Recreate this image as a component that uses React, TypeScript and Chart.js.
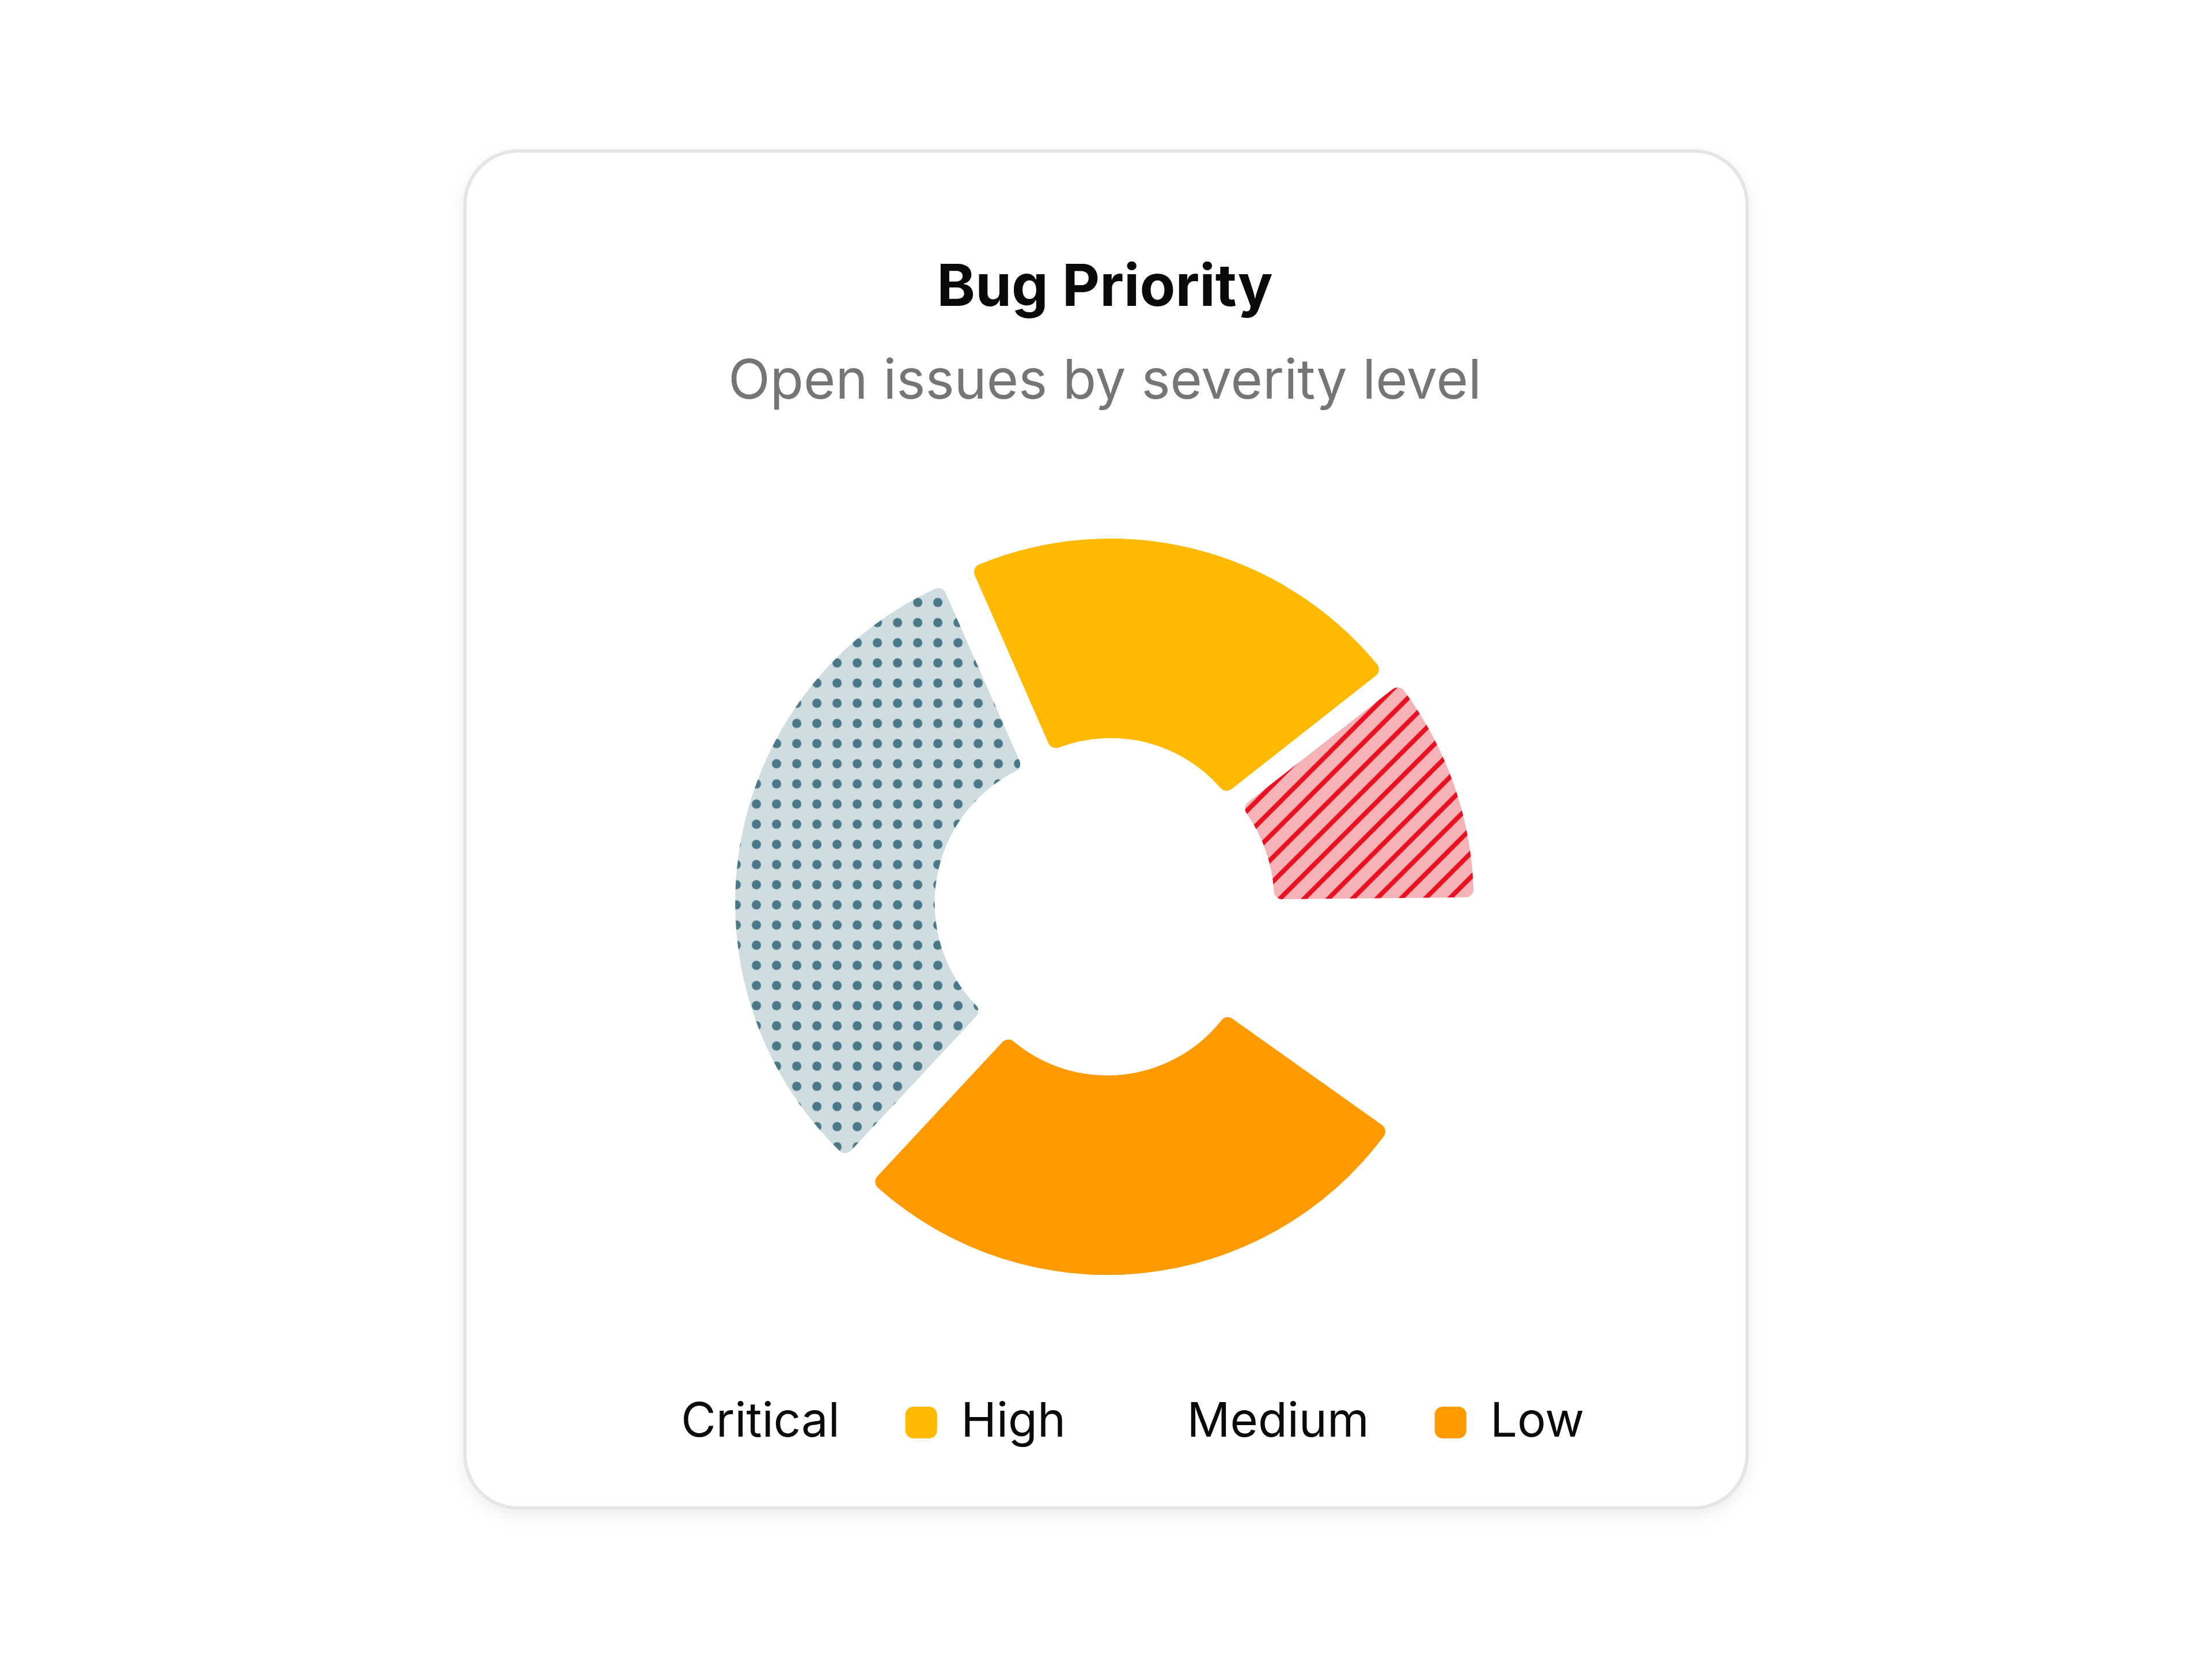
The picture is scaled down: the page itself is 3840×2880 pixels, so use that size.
import { useEffect, useRef } from "react"
import { Chart, registerables } from "chart.js"

Chart.register(...registerables)

// legend order
const severityLabels = ["Critical", "High", "Medium", "Low"]
const openIssues = [12, 24, 36, 31]

const FONT = "Inter, 'Noto Sans', 'Liberation Sans', sans-serif"

function makeHatch(bg: string, fg: string, size: number, width: number) {
  const c = document.createElement("canvas")
  c.width = size
  c.height = size
  const ctx = c.getContext("2d")!
  ctx.fillStyle = bg
  ctx.fillRect(0, 0, size, size)
  ctx.strokeStyle = fg
  ctx.lineWidth = width
  ctx.beginPath()
  // "/" lines: x + y = k * size
  for (const k of [0, 1, 2]) {
    const c0 = k * size
    ctx.moveTo(c0 + 4, -4)
    ctx.lineTo(c0 - size - 4, size + 4)
  }
  ctx.stroke()
  return ctx.createPattern(c, "repeat")!
}

function makeDots(bg: string, fg: string, size: number, r: number) {
  const c = document.createElement("canvas")
  c.width = size
  c.height = size
  const ctx = c.getContext("2d")!
  ctx.fillStyle = bg
  ctx.fillRect(0, 0, size, size)
  ctx.fillStyle = fg
  ctx.beginPath()
  ctx.arc(size / 2, size / 2, r, 0, Math.PI * 2)
  ctx.fill()
  return ctx.createPattern(c, "repeat")!
}

function PriorityDoughnut() {
  const chartRef = useRef<HTMLCanvasElement>(null)
  const chartInstance = useRef<Chart | null>(null)

  useEffect(() => {
    if (!chartRef.current) return
    if (chartInstance.current) chartInstance.current.destroy()
    const ctx = chartRef.current.getContext("2d")
    if (!ctx) return

    // solid colours for legend swatches, null where the slice uses a pattern
    const swatches: (string | null)[] = [null, "#FFB900", null, "#FF9A00"]
    const fills = [
      makeHatch("#F5B3B8", "#E8111F", 42, 8),
      "#FFB900",
      makeDots("#CFDDE1", "#4A7888", 35, 8),
      "#FF9A00",
    ]
    const offsets = [124, 160, 160, 160]

    // slices are drawn in reverse legend order
    const n = severityLabels.length
    const order = severityLabels.map((_, i) => n - 1 - i)

    chartInstance.current = new Chart(ctx, {
      type: "doughnut",
      data: {
        labels: order.map((i) => severityLabels[i]),
        datasets: [
          {
            data: order.map((i) => openIssues[i]),
            backgroundColor: order.map((i) => fills[i]) as any,
            offset: order.map((i) => offsets[i]),
            borderWidth: 0,
            borderRadius: 14,
            hoverOffset: 0,
          },
        ],
      },
      options: {
        animation: false,
        responsive: true,
        maintainAspectRatio: false,
        rotation: 125.4,
        circumference: 324.2,
        radius: 599,
        cutout: "42.2%",
        layout: { padding: { left: 38, right: 42, top: 0, bottom: 94 } },
        plugins: {
          tooltip: { enabled: false },
          title: {
            display: true,
            text: "Bug Priority",
            color: "#0a0a0a",
            font: { family: FONT, size: 101, weight: "bold" },
            padding: { top: 175, bottom: 45 },
          },
          subtitle: {
            display: true,
            text: "Open issues by severity level",
            color: "#757575",
            font: { family: FONT, size: 95, weight: "normal" },
            padding: { top: 0, bottom: 114 },
          },
          legend: {
            position: "bottom",
            labels: {
              font: { family: FONT, size: 83 },
              color: "#0a0a0a",
              boxWidth: 55,
              boxHeight: 55,
              padding: 114,
              useBorderRadius: true,
              borderRadius: 14,
              generateLabels: (chart) =>
                severityLabels.map((label, i) => {
                  const idx = n - 1 - i
                  const fill = swatches[i] ?? "rgba(0,0,0,0)"
                  return {
                    text: label,
                    fillStyle: fill,
                    strokeStyle: fill,
                    lineWidth: 0,
                    fontColor: "#0a0a0a",
                    hidden: !chart.getDataVisibility(idx),
                    index: idx,
                    borderRadius: 14,
                  }
                }),
            },
          },
        },
      },
    })

    return () => {
      if (chartInstance.current) {
        chartInstance.current.destroy()
        chartInstance.current = null
      }
    }
  }, [])

  return <canvas ref={chartRef} />
}

export default function App() {
  return (
    <div
      style={{
        position: "fixed",
        inset: 0,
        background: "#ffffff",
        display: "flex",
        alignItems: "center",
        justifyContent: "center",
      }}
    >
      <div
        style={{
          boxSizing: "border-box",
          width: 2232,
          height: 2362,
          border: "6px solid #e5e5e5",
          borderRadius: 96,
          background: "#ffffff",
          boxShadow: "0 10px 30px rgba(0,0,0,0.07)",
        }}
      >
        <div style={{ position: "relative", width: "100%", height: "100%" }}>
          <PriorityDoughnut />
        </div>
      </div>
    </div>
  )
}
